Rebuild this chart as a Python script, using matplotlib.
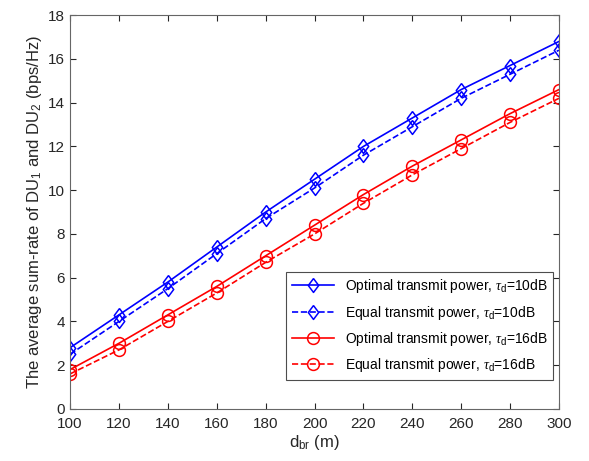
import numpy as np
import matplotlib.pyplot as plt

plt.rcParams['font.family'] = ['Liberation Sans', 'DejaVu Sans']
plt.rcParams['mathtext.fontset'] = 'custom'
plt.rcParams['mathtext.it'] = 'Liberation Serif:italic'
plt.rcParams['mathtext.rm'] = 'Liberation Sans'

# data
d_br = [100, 120, 140, 160, 180, 200, 220, 240, 260, 280, 300]
opt_10 = [2.8, 4.3, 5.8, 7.4, 9.0, 10.5, 12.0, 13.3, 14.6, 15.7, 16.8]
eq_10 = [2.5, 4.0, 5.5, 7.1, 8.7, 10.1, 11.6, 12.9, 14.2, 15.3, 16.4]
opt_16 = [1.8, 3.0, 4.3, 5.6, 7.0, 8.4, 9.8, 11.1, 12.3, 13.5, 14.6]
eq_16 = [1.6, 2.7, 4.0, 5.3, 6.7, 8.0, 9.4, 10.7, 11.9, 13.1, 14.2]

# matlab-like diamond, a bit taller than wide
diam = [(0, 1), (0.75, 0), (0, -1), (-0.75, 0), (0, 1)]

fig = plt.figure(figsize=(5.89, 4.61), dpi=100)
ax = fig.add_axes([0.119, 0.113, 0.83, 0.854])

sty = dict(mfc='none', mew=1.1, lw=1.2)
ax.plot(d_br, opt_10, '-', color='blue', marker=diam, ms=10, **sty,
        label=r'Optimal transmit power, $\tau_{\rm d}$=10dB')
ax.plot(d_br, eq_10, '--', color='blue', marker=diam, ms=10, **sty,
        label=r'Equal transmit power, $\tau_{\rm d}$=10dB')
ax.plot(d_br, opt_16, '-', color='red', marker='o', ms=8.5, **sty,
        label=r'Optimal transmit power, $\tau_{\rm d}$=16dB')
ax.plot(d_br, eq_16, '--', color='red', marker='o', ms=8.5, **sty,
        label=r'Equal transmit power, $\tau_{\rm d}$=16dB')

ax.set_xlim(100, 300)
ax.set_ylim(0, 18)
ax.set_xticks(np.arange(100, 301, 20))
ax.set_yticks(np.arange(0, 19, 2))
ax.tick_params(direction='in', top=True, right=True, labelsize=11, colors='0.15', length=4)
ax.tick_params(axis='x', pad=6)
for s in ax.spines.values():
    s.set_color('0.4')
    s.set_linewidth(0.8)

ax.set_xlabel(r'd$_{\rm br}$ (m)', fontsize=12, color='0.15', labelpad=1)
ax.set_ylabel(r'The average sum-rate of DU$_1$ and DU$_2$ (bps/Hz)', fontsize=12, color='0.15', labelpad=3)

leg = ax.legend(loc='lower right', bbox_to_anchor=(0.988, 0.074), borderaxespad=0, fontsize=10,
                fancybox=False, framealpha=1, edgecolor='0.3', handlelength=3, borderpad=0.4,
                labelspacing=0.6)
leg.get_frame().set_linewidth(0.8)

fig.savefig('out.png', dpi=100)
